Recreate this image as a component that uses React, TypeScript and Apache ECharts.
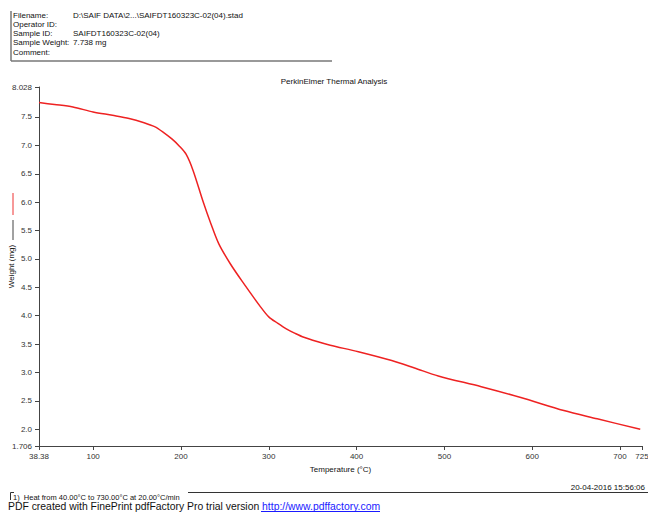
import React, { useEffect, useRef } from "react";
import * as echarts from "echarts";

const temperatures = [38.38, 56, 77, 100, 122, 141, 158, 170, 180, 190, 198, 206, 214, 225, 234, 243, 256, 270, 290, 300, 310, 320, 330, 340, 355, 370, 402, 440, 466, 493, 542, 587, 636, 674, 723];
const weights = [7.754, 7.72, 7.676, 7.588, 7.53, 7.475, 7.40, 7.33, 7.23, 7.11, 6.99, 6.84, 6.55, 6.02, 5.625, 5.27, 4.92, 4.60, 4.17, 3.98, 3.87, 3.77, 3.69, 3.62, 3.545, 3.48, 3.366, 3.21, 3.08, 2.94, 2.75, 2.56, 2.33, 2.185, 2.0];
const xTicks = [38.38, 100, 200, 300, 400, 500, 600, 700, 725];
const yTicks = [1.706, 2.0, 2.5, 3.0, 3.5, 4.0, 4.5, 5.0, 5.5, 6.0, 6.5, 7.0, 7.5, 8.028];
const headerLabels = ["Filename:", "Operator ID:", "Sample ID:", "Sample Weight:", "Comment:"];
const headerValues = ["D:\\SAIF DATA\\2...\\SAIFDT160323C-02(04).stad", "", "SAIFDT160323C-02(04)", "7.738 mg", ""];

const FONT = "Liberation Sans, Arial, sans-serif";

export default function App() {
  const ref = useRef<HTMLDivElement>(null);
  useEffect(() => {
    document.body.style.margin = "0";
    const chart = echarts.init(ref.current!, null, { renderer: "svg" });
    const data = temperatures.map((t, i) => [t, weights[i]]);
    const graphics: any[] = [];
    headerLabels.forEach((l, i) => {
      graphics.push({ type: "text", left: 13, top: 11 + i * 9.3, style: { text: l, font: `8px ${FONT}`, fill: "#111" } });
      if (headerValues[i]) graphics.push({ type: "text", left: 73, top: 11 + i * 9.3, style: { text: headerValues[i], font: `8px ${FONT}`, fill: "#111" } });
    });
    graphics.push(
      { type: "line", shape: { x1: 11, y1: 11, x2: 11, y2: 61 }, style: { stroke: "#777", lineWidth: 1.5 } },
      { type: "line", shape: { x1: 11, y1: 61, x2: 332, y2: 61 }, style: { stroke: "#777", lineWidth: 1.5 } },
      { type: "line", shape: { x1: 13, y1: 193, x2: 13, y2: 215 }, style: { stroke: "#ee3333", lineWidth: 1 } },
      { type: "line", shape: { x1: 13, y1: 220, x2: 13, y2: 240 }, style: { stroke: "#444", lineWidth: 1 } },
      { type: "text", right: 3, top: 483, style: { text: "20-04-2016 15:56:06", font: `8px ${FONT}`, fill: "#111" } },
      { type: "polyline", shape: { points: [[10.5, 500], [10.5, 492.5], [14, 492.5]] }, style: { stroke: "#333", lineWidth: 1, fill: "none" } },
      { type: "line", shape: { x1: 188, y1: 492.5, x2: 648, y2: 492.5 }, style: { stroke: "#333", lineWidth: 1 } },
      { type: "text", left: 13, top: 493, style: { text: "1)  Heat from 40.00°C to 730.00°C at 20.00°C/min", font: `7.5px ${FONT}`, fill: "#111" } },
      {
        type: "text", left: 8, top: 501,
        style: {
          text: "{a|PDF created with FinePrint pdfFactory Pro trial version }{b|http://www.pdffactory.com}",
          rich: {
            a: { font: `10.4px ${FONT}`, fill: "#111" },
            b: { font: `10.4px ${FONT}`, fill: "#1a1aff" },
          },
        },
      },
      { type: "line", shape: { x1: 261, y1: 511.5, x2: 380, y2: 511.5 }, style: { stroke: "#1a1aff", lineWidth: 1 } }
    );
    chart.setOption({
      animation: false,
      backgroundColor: "#fff",
      title: {
        text: "PerkinElmer Thermal Analysis",
        left: 329, textAlign: "center", top: 72,
        textStyle: { fontFamily: FONT, fontSize: 8, fontWeight: "normal", color: "#111" },
      },
      grid: { left: 39, right: 6, top: 87, bottom: 67, containLabel: false, outerBoundsMode: "none" } as any,
      xAxis: {
        type: "value", min: 38.38, max: 725,
        name: "Temperature (°C)", nameLocation: "middle", nameGap: 19, nameMoveOverlap: false,
        nameTextStyle: { fontFamily: FONT, fontSize: 8, color: "#111" },
        axisLine: { show: true, lineStyle: { color: "#444", width: 1 } },
        axisTick: { show: true, length: 4, lineStyle: { color: "#444" }, customValues: xTicks } as any,
        axisLabel: { fontFamily: FONT, fontSize: 8, color: "#333", margin: 6, customValues: xTicks, formatter: (v: number) => (v === 38.38 ? "38.38" : String(v)) } as any,
        splitLine: { show: false },
      } as any,
      yAxis: {
        type: "value", min: 1.706, max: 8.028,
        name: "Weight (mg)", nameLocation: "middle", nameGap: 24, nameRotate: 90, nameMoveOverlap: false,
        nameTextStyle: { fontFamily: FONT, fontSize: 8, color: "#111" },
        axisLine: { show: true, lineStyle: { color: "#444", width: 1 } },
        axisTick: { show: true, length: 4, lineStyle: { color: "#444" }, customValues: yTicks } as any,
        axisLabel: { fontFamily: FONT, fontSize: 8, color: "#333", margin: 7, customValues: yTicks, formatter: (v: number) => (v === 1.706 ? "1.706" : v === 8.028 ? "8.028" : v.toFixed(1)) } as any,
        splitLine: { show: false },
      } as any,
      series: [{
        type: "line", data, smooth: 0.3, showSymbol: false,
        lineStyle: { color: "#ee2222", width: 1.5 },
      }],
      graphic: graphics,
    });
    return () => chart.dispose();
  }, []);
  return <div ref={ref} style={{ width: 648, height: 513 }} />;
}
